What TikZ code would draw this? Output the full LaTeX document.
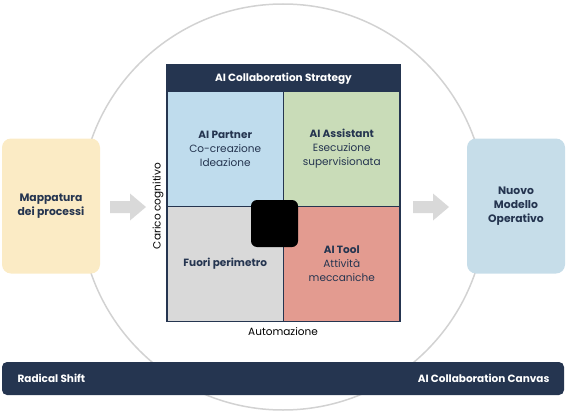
\documentclass[tikz,border=0pt]{standalone}
\usepackage{fontspec}
\setmainfont{Poppins}
\usepackage{xcolor}
\usepackage{tikz}
\usetikzlibrary{positioning}
\definecolor{navy}{HTML}{253550}
\definecolor{partnerblue}{HTML}{BFDCED}
\definecolor{assistgreen}{HTML}{C9DCB8}
\definecolor{fuorigray}{HTML}{D9D9D9}
\definecolor{toolred}{HTML}{E39B90}
\definecolor{mapyellow}{HTML}{FBEBC5}
\definecolor{nuovoblue}{HTML}{C6DDE9}
\definecolor{ringgray}{HTML}{D2D2D2}
\definecolor{arrowgray}{HTML}{D9D9D9}
\newcommand{\Blockpfeil}[2]{\fill[arrowgray] (#1,#2) ++(0,-6) -- ++(20,0) -- ++(0,-7.5) -- ++(16,13.5) -- ++(-16,13.5) -- ++(0,-7.5) -- ++(-20,0) -- cycle;}

\begin{document}
\begin{tikzpicture}[x=1pt,y=-1pt,
  feld/.style={draw=navy,line width=1.3pt,minimum width=116.5pt,minimum height=115pt,
    align=center,text=navy,font=\fontsize{10.5}{14}\selectfont},
  seite/.style={rounded corners=9pt,minimum width=98pt,minimum height=135pt,
    align=center,text=navy,font=\bfseries\fontsize{10.8}{14}\selectfont},
  achse/.style={text=black,font=\fontsize{10.5}{12}\selectfont}]
  \useasboundingbox (0,0) rectangle (567,412);
  % grosser Kreis im Hintergrund
  \draw[ringgray,line width=1.5pt] (283,207) circle[radius=203pt];
  % Seitenkarten
  \node[seite,fill=mapyellow] (mappa) at (51,206) {Mappatura\\dei processi};
  \node[seite,fill=nuovoblue] (nuovo) at (516,206) {Nuovo\\Modello\\Operativo};
  \Blockpfeil{110}{207}
  \Blockpfeil{413}{207}
  % Matrix
  \node[draw=navy,line width=1.3pt,fill=navy,minimum width=233pt,minimum height=27pt,
    text=white,font=\bfseries\fontsize{10.5}{12}\selectfont] (titolo) at (283.5,78.5) {AI Collaboration Strategy};
  \node[feld,fill=partnerblue] (partner) at (225.25,149) {\textbf{AI Partner}\\Co-creazione\\Ideazione};
  \node[feld,fill=assistgreen] (assistant) at (341.75,149) {\textbf{AI Assistant}\\Esecuzione\\supervisionata};
  \node[feld,fill=fuorigray] (fuori) at (225.25,264) {\textbf{Fuori perimetro}};
  \node[feld,fill=toolred] (tool) at (341.75,264) {\textbf{AI Tool}\\Attività\\meccaniche};
  \node[fill=black,rounded corners=6pt,minimum size=47pt] (centro) at (274.5,223.5) {};
  \node[achse] (automazione) at (283,332) {Automazione};
  \node[achse,rotate=90] (carico) at (158,206) {Carico cognitivo};
  % Fusszeile
  \node[fill=navy,rounded corners=5pt,minimum width=562pt,minimum height=33pt] (leiste) at (283,378.5) {};
  \node[anchor=west,text=white,font=\bfseries\fontsize{10.5}{12}\selectfont] (radical) at (14,378.5) {Radical Shift};
  \node[anchor=east,text=white,font=\bfseries\fontsize{10.5}{12}\selectfont] (canvas) at (553,378.5) {AI Collaboration Canvas};
\end{tikzpicture}
\end{document}
